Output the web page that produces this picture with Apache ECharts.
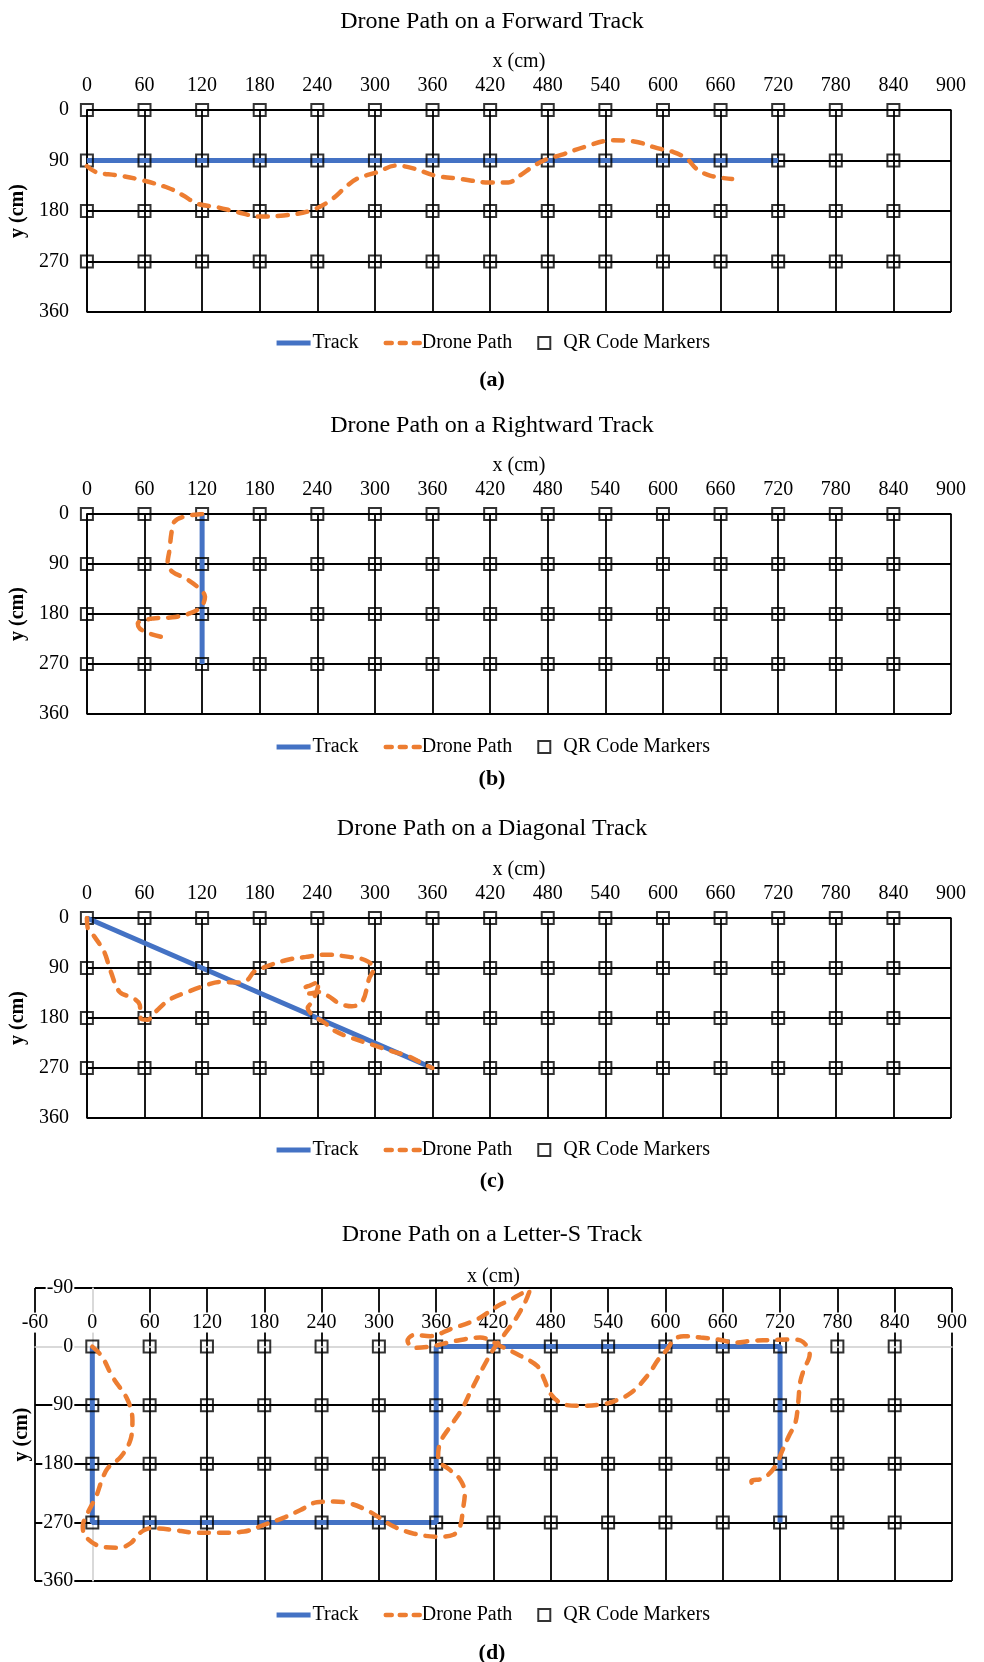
<!DOCTYPE html>
<html><head><meta charset="utf-8">
<script src="https://cdn.jsdelivr.net/npm/echarts@6/dist/echarts.min.js"></script>
<style>html,body{margin:0;padding:0;background:#fff}#main{width:984px;height:1662px}</style>
</head><body><div id="main"></div>
<script>
const titles = ['Drone Path on a Forward Track','Drone Path on a Rightward Track','Drone Path on a Diagonal Track','Drone Path on a Letter-S Track'];
const captions = ['(a)','(b)','(c)','(d)'];
const legendNames = ['Track','Drone Path','QR Code Markers'];
const markerXs = [0,60,120,180,240,300,360,420,480,540,600,660,720,780,840];
const markerYs = [0,90,180,270];

const trackA = [[0,90],[720,90]];
const pathA = [[0,100],[10,111],[30,116],[55,124],[85,139],[100,152],[115,167],[135,173],[157,182],[180,190],[205,188],[232,180],[253,162],[271,135],[282,122],[302,111],[322,99],[340,104],[363,117],[390,123],[418,129],[439,129],[451,117],[466,99],[480,87],[494,80],[518,66],[546,54],[570,56],[594,68],[611,75],[625,87],[635,105],[649,117],[672,123]];

const trackB = [[120,0],[120,270]];
const pathB = [[120,0],[103,4],[91,14],[88,35],[86,65],[84,89],[89,104],[103,116],[117,134],[123,149],[119,167],[107,179],[89,186],[69,188],[53,197],[55,206],[65,215],[84,224]];

const trackC = [[0,0],[360,270]];
const pathC = [[0,0],[1,19],[8,34],[18,61],[25,97],[34,133],[48,144],[55,156],[56,180],[63,183],[72,168],[86,147],[105,133],[124,121],[138,115],[159,116],[167,112],[174,97],[186,88],[207,76],[228,70],[249,66],[273,70],[290,76],[299,91],[294,109],[287,150],[276,159],[262,153],[252,141],[242,133],[232,136],[226,127],[233,121],[242,114],[240,128],[235,150],[230,162],[236,176],[248,189],[259,204],[276,216],[297,228],[318,240],[335,249],[352,264],[360,270]];

const trackD = [[0,0],[0,270],[360,270],[360,0],[720,0],[720,270]];
const pathD = [[0,0],[10,15],[21,46],[37,82],[42,113],[40,143],[30,169],[16,187],[10,205],[4,230],[-5,256],[-10,276],[-7,292],[9,307],[28,309],[40,302],[50,286],[61,279],[82,281],[110,286],[131,286],[159,284],[179,274],[200,263],[218,251],[235,239],[253,238],[270,241],[287,251],[301,263],[315,276],[336,287],[361,292],[378,289],[385,276],[388,250],[390,225],[385,204],[374,189],[362,173],[364,148],[375,122],[387,96],[397,66],[408,35],[420,4],[430,-16],[443,-42],[453,-68],[458,-86],[450,-82],[438,-72],[424,-62],[403,-42],[375,-27],[354,-16],[337,-18],[330,-9],[337,2],[357,-1],[381,-9],[406,-14],[427,-1],[448,14],[466,30],[473,50],[480,73],[494,89],[511,91],[532,89],[546,84],[564,71],[581,45],[593,19],[602,4],[609,-11],[619,-16],[637,-14],[655,-11],[673,-6],[690,-9],[708,-10],[729,-11],[742,-9],[751,12],[745,35],[741,55],[739,86],[736,117],[729,138],[722,161],[715,184],[703,202],[690,207],[692,217]];

const tracks = [trackA, trackB, trackC, trackD];
const paths = [pathA, pathB, pathC, pathD];
const xMins = [0,0,0,-60];
const yMins = [0,0,0,-90];
const X_MAX = 900, Y_MAX = 360;

const FONT = "'Liberation Serif','Times New Roman',serif";
const BLUE = '#4472C4', ORANGE = '#ED7D31', GRID = '#000', AXISGRAY = '#d9d9d9';
const HIDDEN = 'rgba(0,0,0,0)';

const layouts = [
  {left:84, top:110, width:867, height:202, titleY:19,  capY:377,  legendY:343,  xGap:38, yGap:49},
  {left:84, top:514, width:867, height:200, titleY:423, capY:776,  legendY:747,  xGap:38, yGap:49},
  {left:84, top:918, width:867, height:200, titleY:826, capY:1178, legendY:1150, xGap:38, yGap:49},
  {left:35, top:1288, width:917, height:293, titleY:1232, capY:1650, legendY:1615, xGap:60, yGap:57}
];

const markers = [];
markerYs.forEach(y => markerXs.forEach(x => markers.push([x, y])));

const option = {animation:false, textStyle:{fontFamily:FONT}, title:[], legend:[], grid:[], xAxis:[], yAxis:[], series:[]};

layouts.forEach((L, i) => {
  const isD = i === 3;
  option.title.push({text:titles[i], left:'center', top:L.titleY-14, textStyle:{fontFamily:FONT, fontSize:24, fontWeight:'normal', color:'#000'}});
  option.title.push({text:captions[i], left:'center', top:L.capY-13, textStyle:{fontFamily:FONT, fontSize:22, fontWeight:'bold', color:'#000'}});
  option.legend.push({
    left:'center', top:L.legendY-10, padding:0, itemWidth:34, itemHeight:12, itemGap:25,
    textStyle:{fontFamily:FONT, fontSize:20, color:'#000', padding:[0,0,0,-3]},
    data:[
      {name:legendNames[0], lineStyle:{width:5, color:BLUE, type:'solid'}, itemStyle:{color:HIDDEN, borderColor:HIDDEN, borderWidth:0}},
      {name:legendNames[1], lineStyle:{width:4.5, color:ORANGE, type:[6,8], cap:'round'}, itemStyle:{color:HIDDEN, borderColor:HIDDEN, borderWidth:0}},
      {name:legendNames[2], icon:'path://M0,0L10,0L10,10L0,10Z', itemStyle:{color:HIDDEN, borderColor:'#000', borderWidth:2}}
    ]
  });
  option.grid.push({left:L.left, top:L.top, width:L.width, height:L.height});
  const xTickVals = []; for (let v = xMins[i]; v <= X_MAX; v += 60) xTickVals.push(v);
  const yTickVals = []; for (let v = yMins[i]; v <= Y_MAX; v += 90) yTickVals.push(v);
  const xColors = xTickVals.map(v => (isD && v === 0) ? AXISGRAY : GRID);
  const yColors = yTickVals.map(v => (isD && v === 0) ? AXISGRAY : GRID);
  // axes cross at zero: shift axis from grid edge to the zero position
  const xAxisOffset = -((0 - yMins[i]) / (Y_MAX - yMins[i])) * L.height;
  const yAxisOffset = -((0 - xMins[i]) / (X_MAX - xMins[i])) * L.width;
  const labelBg = isD ? {backgroundColor:'#fff', padding:[0,1]} : {};
  option.xAxis.push({
    type:'value', gridIndex:i, position:'top', offset:xAxisOffset, min:xMins[i], max:X_MAX, interval:60,
    name:'x (cm)', nameLocation:'middle', nameGap:L.xGap,
    nameTextStyle:{fontFamily:FONT, fontSize:20, color:'#000'},
    axisLine:{onZero:false, lineStyle:{color:isD?AXISGRAY:GRID, width:1.5}},
    axisTick:{show:false},
    axisLabel:Object.assign({margin:14, fontSize:20, color:'#000', fontFamily:FONT}, labelBg),
    splitLine:{show:true, lineStyle:{color:xColors, width:1.8}}
  });
  option.yAxis.push({
    type:'value', gridIndex:i, position:'left', offset:yAxisOffset, inverse:true, min:yMins[i], max:Y_MAX, interval:90,
    name:'y (cm)', nameLocation:'middle', nameGap:L.yGap,
    nameTextStyle:{fontFamily:FONT, fontSize:20, fontWeight:'bold', color:'#000'},
    axisLine:{onZero:false, lineStyle:{color:isD?AXISGRAY:GRID, width:1.5}},
    axisTick:{show:false},
    axisLabel:Object.assign({margin:18, fontSize:20, color:'#000', fontFamily:FONT}, labelBg),
    splitLine:{show:true, lineStyle:{color:yColors, width:1.8}}
  });
  option.series.push({
    name:legendNames[0], type:'line', xAxisIndex:i, yAxisIndex:i, data:tracks[i],
    symbol:'none', lineStyle:{color:BLUE, width:5}, itemStyle:{color:BLUE}, z:2
  });
  option.series.push({
    name:legendNames[2], type:'scatter', xAxisIndex:i, yAxisIndex:i, data:markers,
    symbol:'rect', symbolSize:12,
    itemStyle:{color:HIDDEN, borderColor:'#000', borderWidth:2}, z:3
  });
  option.series.push({
    name:legendNames[1], type:'line', xAxisIndex:i, yAxisIndex:i, data:paths[i],
    symbol:'none', smooth:0.35,
    lineStyle:{color:ORANGE, width:4.5, type:[10,10], cap:'round'}, itemStyle:{color:ORANGE}, z:4
  });
});

const chart = echarts.init(document.getElementById('main'), null, {renderer:'canvas'});
chart.setOption(option);
</script>
</body></html>
